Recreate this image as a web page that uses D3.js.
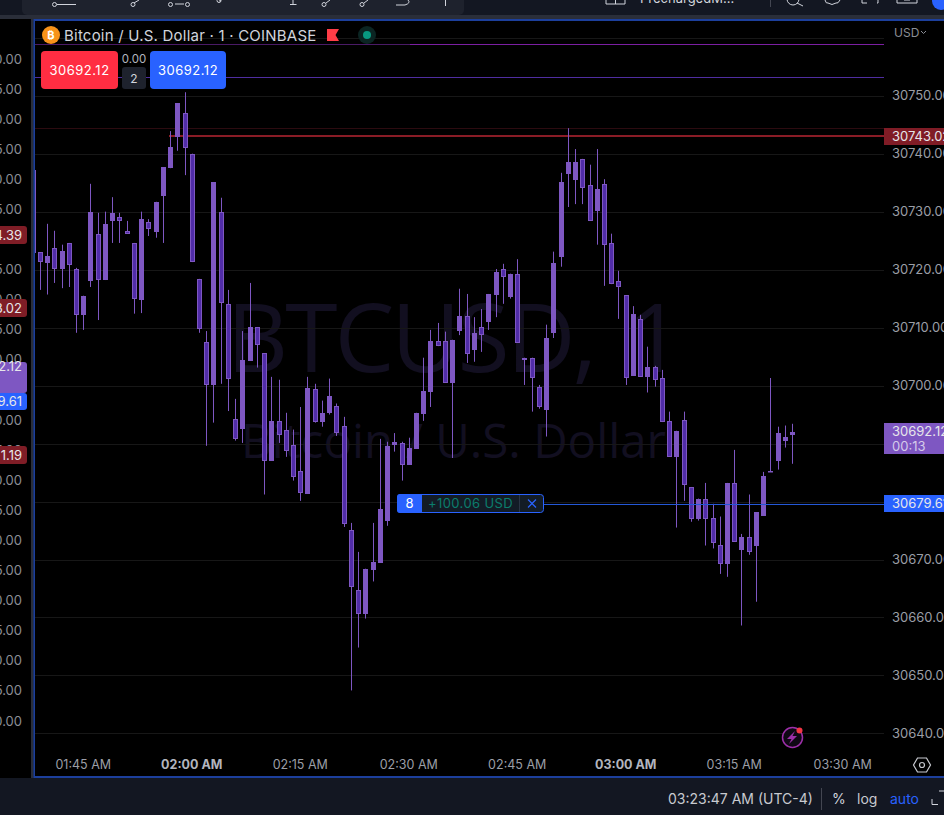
<!DOCTYPE html>
<html>
  <head>
    <title>Bitcoin / U.S. Dollar 1 COINBASE</title>
    <style>
      html, body { margin: 0; padding: 0; background: #131722; overflow: hidden; }
      svg { display: block; }
      text { font-family: Inter, "Noto Sans", sans-serif; }
    </style>
  </head>

  <body>
    <script src="https://d3js.org/d3.v7.min.js"></script>
    <script>

// one minute candles, first one is 01:38 and sits mostly behind the pane edge
var opens = [
  30723.0, 30723.1, 30721.3, 30723.8, 30720.2, 30724.7, 30720.2, 30712.3, 30718.2, 30726.3,
  30718.3, 30728.5, 30729.2, 30726.8, 30724.7, 30714.9, 30728.3, 30726.6, 30732.8, 30737.6,
  30743.0, 30747.1, 30740.1, 30718.5, 30707.6, 30700.1, 30730.1, 30714.2, 30694.4, 30692.6,
  30704.4, 30710.2, 30705.7, 30687.1, 30694.0, 30692.5, 30689.9, 30685.4, 30681.4, 30699.5,
  30693.8, 30695.4, 30696.6, 30693.2, 30675.2, 30664.9, 30660.7, 30668.3, 30669.5, 30676.8,
  30689.9, 30690.2, 30686.4, 30689.2, 30695.2, 30699.0, 30707.8, 30707.8, 30700.6, 30709.5,
  30712.1, 30706.3, 30710.2, 30711.1, 30715.7, 30720.2, 30715.4, 30719.4, 30704.9, 30704.9,
  30699.9, 30695.9, 30709.2, 30722.3, 30736.6, 30735.6, 30739.2, 30734.7, 30730.2, 30734.9,
  30724.7, 30718.2, 30715.7, 30701.8, 30711.6, 30701.6, 30703.3, 30701.4, 30694.0, 30687.8,
  30694.2, 30682.6, 30677.1, 30680.6, 30677.3, 30672.6, 30669.4, 30683.3, 30671.8, 30674.0,
  30672.3, 30677.6, 30685.4, 30687.1, 30690.6, 30691.6
];
var highs = [
  30737.3, 30723.1, 30728.0, 30726.8, 30724.4, 30724.7, 30720.4, 30715.6, 30734.9, 30729.9,
  30730.1, 30732.6, 30729.9, 30728.5, 30724.7, 30730.1, 30728.8, 30731.8, 30737.8, 30744.0,
  30748.8, 30750.7, 30740.1, 30718.5, 30709.5, 30735.2, 30732.5, 30716.6, 30697.8, 30709.5,
  30717.8, 30710.2, 30705.7, 30701.6, 30701.1, 30695.4, 30692.5, 30696.4, 30701.6, 30700.4,
  30697.5, 30701.3, 30697.0, 30694.7, 30676.4, 30671.4, 30668.5, 30676.4, 30690.9, 30690.4,
  30691.9, 30690.4, 30691.1, 30695.4, 30704.9, 30709.7, 30710.9, 30709.4, 30708.0, 30716.8,
  30715.9, 30711.9, 30713.3, 30715.9, 30720.2, 30721.1, 30719.4, 30721.9, 30704.9, 30704.9,
  30700.2, 30710.6, 30723.2, 30736.8, 30744.5, 30740.9, 30739.2, 30738.2, 30740.9, 30735.7,
  30726.3, 30719.9, 30715.7, 30713.8, 30712.3, 30706.8, 30703.5, 30702.8, 30695.6, 30692.3,
  30695.6, 30682.6, 30680.6, 30683.3, 30679.7, 30677.5, 30683.3, 30689.0, 30674.5, 30681.3,
  30678.2, 30685.2, 30701.4, 30693.0, 30693.2, 30693.5
];
var lows = [
  30723.0, 30716.6, 30715.8, 30717.8, 30716.9, 30717.1, 30709.2, 30709.7, 30717.1, 30711.4,
  30718.3, 30724.7, 30724.7, 30726.3, 30712.5, 30712.6, 30725.9, 30725.6, 30724.7, 30737.6,
  30740.6, 30736.4, 30721.4, 30709.2, 30689.7, 30693.7, 30700.4, 30695.7, 30690.6, 30690.2,
  30704.4, 30703.2, 30681.3, 30687.1, 30690.2, 30687.8, 30683.7, 30680.2, 30681.4, 30693.7,
  30693.0, 30695.1, 30691.4, 30675.7, 30647.5, 30654.9, 30659.9, 30666.3, 30669.5, 30675.9,
  30688.7, 30683.7, 30686.4, 30689.2, 30694.0, 30696.4, 30706.9, 30700.6, 30687.6, 30708.8,
  30704.0, 30704.2, 30705.9, 30709.7, 30711.9, 30714.2, 30715.1, 30707.5, 30700.2, 30695.6,
  30696.1, 30691.3, 30708.3, 30720.6, 30730.9, 30731.4, 30731.4, 30728.5, 30724.4, 30717.3,
  30717.6, 30711.6, 30700.2, 30701.8, 30701.6, 30698.9, 30699.9, 30693.8, 30687.8, 30675.6,
  30680.2, 30676.6, 30676.8, 30672.5, 30672.0, 30667.6, 30667.1, 30673.2, 30658.7, 30670.9,
  30662.8, 30677.6, 30685.2, 30685.6, 30689.4, 30686.6
];
var closes = [
  30737.3, 30721.3, 30722.5, 30720.2, 30723.3, 30720.9, 30712.3, 30715.6, 30730.1, 30718.3,
  30728.0, 30729.9, 30728.5, 30726.3, 30715.1, 30728.8, 30727.1, 30731.8, 30737.8, 30741.3,
  30748.8, 30741.1, 30721.4, 30709.9, 30700.1, 30735.2, 30714.4, 30701.3, 30690.9, 30704.5,
  30710.2, 30707.1, 30687.1, 30694.0, 30691.6, 30688.8, 30684.4, 30681.6, 30699.7, 30693.8,
  30695.4, 30698.3, 30691.9, 30676.3, 30665.4, 30660.7, 30668.5, 30669.7, 30678.8, 30689.7,
  30690.4, 30686.4, 30689.4, 30695.4, 30699.2, 30707.8, 30706.9, 30700.6, 30708.0, 30712.1,
  30705.6, 30709.2, 30708.8, 30715.9, 30719.7, 30718.8, 30719.4, 30707.5, 30704.5, 30701.4,
  30696.4, 30708.3, 30721.3, 30735.2, 30738.7, 30738.7, 30734.2, 30728.5, 30734.0, 30724.4,
  30717.6, 30717.1, 30701.4, 30712.5, 30701.6, 30703.3, 30701.1, 30693.8, 30687.8, 30692.3,
  30683.0, 30677.1, 30680.6, 30677.1, 30673.0, 30669.4, 30683.3, 30673.2, 30674.0, 30671.4,
  30678.2, 30684.5, 30685.2, 30691.9, 30691.3, 30692.12
];

var priceTicks = [30750, 30740, 30730, 30720, 30710, 30700, 30690, 30680, 30670, 30660, 30650, 30640];
var gridPrices = [30760].concat(priceTicks);
var leftTicks = ["0.00", "5.00", "0.00", "5.00", "0.00", "5.00", "0.00", "5.00", "0.00", "5.00", "0.00", "5.00", "0.00", "5.00", "0.00", "5.00", "0.00", "5.00", "0.00", "5.00", "0.00", "5.00", "0.00"];
var leftMarks = [
  {text: "4.39", y: 235, h: 18, fill: "#7f1d26"},
  {text: "3.02", y: 308, h: 18, fill: "#7f1d26"},
  {text: "2.12", y: 377.5, h: 31, fill: "#7e57c2", top: true},
  {text: "9.61", y: 401.5, h: 17, fill: "#2962ff"},
  {text: "1.19", y: 455, h: 18, fill: "#7f1d26"}
];
var timeTicks = ["01:45", "02:00", "02:15", "02:30", "02:45", "03:00", "03:15", "03:30"];
var stopPrice = 30743.02, lastPrice = 30692.12, orderPrice = 30679.61;
var purplePrice1 = 30759.0, purplePrice2 = 30753.3, faintRedPrice = 30744.5;

var width = 944, height = 815;
var paneLeft = 35, paneRight = 884, paneTop = 21, paneBottom = 776;

function toDate(s) { return new Date("2023-07-14T" + s + ":00Z"); }

var x = d3.scaleUtc()
    .domain([toDate("01:45"), toDate("03:30")])
    .range([83.76, 843.2]);

var y = d3.scaleLinear()
    .domain([30640, 30750])
    .range([733.9, 96.3]);

var leftY = d3.scaleLinear()
    .domain([0, leftTicks.length - 1])
    .range([59, 721]);

var candles = d3.range(opens.length).map(function (i) {
  return {
    t: new Date(toDate("01:38").getTime() + i * 60000),
    o: opens[i], h: highs[i], l: lows[i], c: closes[i]
  };
});

function crisp(v) { return Math.floor(v) + 0.5; }

var svg = d3.select("body").append("svg")
    .attr("width", width)
    .attr("height", height);

// frame
svg.append("rect").attr("width", width).attr("height", height).attr("fill", "#131722");
svg.append("rect").attr("x", 0).attr("y", 19).attr("width", 31).attr("height", 759).attr("fill", "#000");
svg.append("rect").attr("x", 0).attr("y", 15).attr("width", width).attr("height", 4).attr("fill", "#2a2e39");
svg.append("rect").attr("x", 31).attr("y", 19).attr("width", 2.4).attr("height", 759).attr("fill", "#2a2e39");
svg.append("rect").attr("x", 33.4).attr("y", 19).attr("width", width).attr("height", 759).attr("fill", "#1c3f9c");
svg.append("rect").attr("x", paneLeft).attr("y", paneTop).attr("width", width - paneLeft).attr("height", paneBottom - paneTop).attr("fill", "#000");
svg.append("rect").attr("x", 0).attr("y", 778).attr("width", width).attr("height", 37).attr("fill", "#131722");

svg.append("defs").append("clipPath").attr("id", "pane")
  .append("rect")
    .attr("x", paneLeft).attr("y", paneTop)
    .attr("width", paneRight - paneLeft).attr("height", 725);

// top toolbar
svg.append("path")
    .attr("fill", "#1e222d")
    .attr("d", "M22,0H464V10a5,5 0 0 1 -5,5H27a5,5 0 0 1 -5,-5Z");

var toolbar = svg.append("g").attr("fill", "none").attr("stroke", "#d1d4dc").attr("stroke-width", 1);
toolbar.append("path").attr("d", "M57,4.5H76");
toolbar.append("path").attr("d", "M134,3L139,0M175,4H184M221,0.5L219,1M293,0V4M290,4.5H296.5M326,3L330,0M364,3L368,0M396,5H405Q411,3 408,0M445.5,0V6");
[[54.5, 4.5], [133, 4.5], [170.5, 4.5], [187.5, 4.5], [219, 0.5], [324, 4.5], [362, 4.5]].forEach(function (c) {
  toolbar.append("circle").attr("cx", c[0]).attr("cy", c[1]).attr("r", 2);
});

// top right of the header
var header = svg.append("g").attr("fill", "none").attr("stroke", "#d1d4dc").attr("stroke-width", 1);
header.append("path").attr("d", "M606,0V4H625V0M615.5,0V4");
svg.append("text").attr("x", 640).attr("y", 3).attr("font-size", 13).attr("fill", "#d1d4dc").text("PrechargedM...");
svg.append("rect").attr("x", 770).attr("y", 0).attr("width", 1).attr("height", 7).attr("fill", "#434651");
header.append("circle").attr("cx", 793).attr("cy", -1).attr("r", 6);
header.append("path").attr("d", "M797,3L803,6");
header.append("path").attr("d", "M825,0Q826,4 828,3Q832,6 836,3Q838,4 840,0");
header.append("path").attr("d", "M862,0V3H867M877,3H878V0");
header.append("path").attr("d", "M897,0V3H917V0M904,0H910");
svg.append("circle").attr("cx", 941).attr("cy", 1).attr("r", 9).attr("fill", "#2962ff");

var chart = svg.append("g").attr("clip-path", "url(#pane)");

// watermark behind everything
chart.append("text")
    .attr("x", 453).attr("y", 372)
    .attr("text-anchor", "middle")
    .attr("font-size", 95)
    .attr("letter-spacing", -3)
    .attr("word-spacing", 12)
    .attr("fill", "#120f20")
    .style("font-family", "'Open Sans'")
    .text("BTCUSD, 1");
chart.append("text")
    .attr("x", 453.5).attr("y", 458)
    .attr("text-anchor", "middle")
    .attr("font-size", 47.5)
    .attr("fill", "#120f20")
    .style("font-family", "'Open Sans'")
    .text("Bitcoin / U.S. Dollar");

// grid
chart.append("g").selectAll("line")
  .data(gridPrices)
  .enter().append("line")
    .attr("x1", paneLeft).attr("x2", paneRight)
    .attr("y1", function (d) { return crisp(y(d)); })
    .attr("y2", function (d) { return crisp(y(d)); })
    .attr("stroke", "#171717");

// level lines
function level(price, x1, color) {
  chart.append("line")
      .attr("x1", x1).attr("x2", paneRight)
      .attr("y1", crisp(y(price))).attr("y2", crisp(y(price)))
      .attr("stroke", color);
}
level(purplePrice1, paneLeft, "#4a1a66");
level(purplePrice1, 410, "#7b1fa2");
level(purplePrice2, paneLeft, "#4f2da0");
level(faintRedPrice, paneLeft, "#2c0b10");

// the stop line is thicker than the others
chart.append("line")
    .attr("x1", 169).attr("x2", paneRight)
    .attr("y1", Math.floor(y(stopPrice))).attr("y2", Math.floor(y(stopPrice)))
    .attr("stroke", "#8a1c26")
    .attr("stroke-width", 2);

// candles
var candle = chart.append("g").selectAll("g")
  .data(candles)
  .enter().append("g");

candle.append("line")
    .attr("x1", function (d) { return crisp(x(d.t)); })
    .attr("x2", function (d) { return crisp(x(d.t)); })
    .attr("y1", function (d) { return y(d.h); })
    .attr("y2", function (d) { return y(d.l); })
    .attr("stroke", "#7e57c2");

candle.append("rect")
    .attr("x", function (d) { return Math.floor(x(d.t)) - 2 + 0.5; })
    .attr("y", function (d) { return Math.round(y(Math.max(d.o, d.c))) + 0.5; })
    .attr("width", 4)
    .attr("height", function (d) { return Math.max(Math.round(Math.abs(y(d.o) - y(d.c))) - 1, 0.5); })
    .attr("fill", function (d) { return d.c >= d.o ? "#7e57c2" : "#512da8"; })
    .attr("stroke", "#7e57c2");

// order line
chart.append("line")
    .attr("x1", 544).attr("x2", paneRight)
    .attr("y1", crisp(y(orderPrice))).attr("y2", crisp(y(orderPrice)))
    .attr("stroke", "#2458d8");

var order = svg.append("g");
order.append("rect").attr("x", 397.5).attr("y", 494.5).attr("width", 146).attr("height", 18).attr("rx", 3).attr("fill", "#131c26").attr("stroke", "#2962ff");
order.append("path").attr("fill", "#2962ff").attr("d", "M422,494H400a3,3 0 0 0 -3,3V510a3,3 0 0 0 3,3H422Z");
order.append("line").attr("x1", 519.5).attr("x2", 519.5).attr("y1", 495).attr("y2", 512).attr("stroke", "#2a3444");
order.append("text").attr("x", 409.5).attr("y", 508).attr("text-anchor", "middle").attr("font-size", 13).attr("fill", "#fff").text("8");
order.append("text").attr("x", 428).attr("y", 508).attr("font-size", 13).attr("letter-spacing", 0.4).attr("fill", "#0b7d6c").text("+100.06 USD");
order.append("path").attr("stroke", "#2962ff").attr("stroke-width", 1.2).attr("d", "M528,499.5L536,507.5M536,499.5L528,507.5");

// legend row
svg.append("circle").attr("cx", 51).attr("cy", 35).attr("r", 9).attr("fill", "#f7931a");
svg.append("text").attr("x", 51).attr("y", 39).attr("text-anchor", "middle").attr("font-size", 11).attr("font-weight", 700).attr("fill", "#fff").text("\u20BF");
svg.append("text").attr("x", 64).attr("y", 40.5).attr("font-size", 15).attr("letter-spacing", 0.22).attr("fill", "#d1d4dc").text("Bitcoin / U.S. Dollar \u00B7 1 \u00B7 COINBASE");
svg.append("path").attr("fill", "#ff3d47").attr("d", "M327,29H339L335.5,35L339,41H327Z");
svg.append("circle").attr("cx", 367).attr("cy", 35).attr("r", 9).attr("fill", "#0b2523");
svg.append("circle").attr("cx", 367).attr("cy", 35).attr("r", 4).attr("fill", "#089981");

// buy / sell buttons
svg.append("rect").attr("x", 41).attr("y", 51).attr("width", 77).attr("height", 38).attr("rx", 4).attr("fill", "#ff2d42");
svg.append("rect").attr("x", 150).attr("y", 51).attr("width", 76).attr("height", 38).attr("rx", 4).attr("fill", "#2962ff");
svg.append("rect").attr("x", 122).attr("y", 67).attr("width", 24).attr("height", 22).attr("rx", 3).attr("fill", "#1e222d");
svg.append("text").attr("x", 79.5).attr("y", 75).attr("text-anchor", "middle").attr("font-size", 13).attr("letter-spacing", 0.5).attr("fill", "#fff").text(lastPrice.toFixed(2));
svg.append("text").attr("x", 188).attr("y", 75).attr("text-anchor", "middle").attr("font-size", 13).attr("letter-spacing", 0.5).attr("fill", "#fff").text(lastPrice.toFixed(2));
svg.append("text").attr("x", 134).attr("y", 62.5).attr("text-anchor", "middle").attr("font-size", 11.5).attr("fill", "#b2b5be").text("0.00");
svg.append("text").attr("x", 134).attr("y", 83).attr("text-anchor", "middle").attr("font-size", 12).attr("fill", "#d1d4dc").text("2");

// price axis
var priceAxis = svg.append("g")
    .attr("transform", "translate(" + paneRight + ",-1)")
    .call(d3.axisRight(y).tickValues(priceTicks).tickFormat(d3.format(".2f")).tickSize(0).tickPadding(8));
priceAxis.select(".domain").remove();
priceAxis.selectAll("text")
    .attr("font-size", 13)
    .style("font-family", "Inter")
    .attr("fill", "#9b9ea6");

svg.append("text").attr("x", 894).attr("y", 37).attr("font-size", 12).attr("fill", "#8b8e96").text("USD");
svg.append("path").attr("fill", "none").attr("stroke", "#8b8e96").attr("d", "M921,31L923.5,33.5L926,31");

function priceLabel(price, top, h, fill) {
  svg.append("rect").attr("x", paneRight).attr("y", top).attr("width", 60).attr("height", h).attr("fill", fill);
  svg.append("text").attr("x", 892).attr("y", top + 13).attr("font-size", 13).attr("fill", "#e6e6ea").text(price.toFixed(2));
}
priceLabel(stopPrice, 128, 17, "#801c26");
priceLabel(lastPrice, 423, 31, "#7e57c2");
svg.append("text").attr("x", 892).attr("y", 451).attr("font-size", 13).attr("fill", "#d5cbea").text("00:13");
priceLabel(orderPrice, 495, 17, "#2962ff");

// time axis
var timeAxis = svg.append("g")
    .attr("transform", "translate(-1,751)")
    .call(d3.axisBottom(x)
      .tickValues(timeTicks.map(toDate))
      .tickFormat(d3.utcFormat("%I:%M %p"))
      .tickSize(0).tickPadding(9));
timeAxis.select(".domain").remove();
timeAxis.selectAll("text")
    .attr("font-size", 12.5)
    .style("font-family", "Inter")
    .attr("fill", "#9b9ea6")
    .each(function (d) {
      if (d.getUTCMinutes() === 0) d3.select(this).attr("font-weight", 700).attr("fill", "#b2b5be");
    });

// hexagon settings icon
svg.append("path").attr("fill", "none").attr("stroke", "#c8cad0").attr("stroke-width", 1.2).attr("d", "M917.5,758H926.5L930.5,765L926.5,772H917.5L913.5,765Z");
svg.append("circle").attr("cx", 922).attr("cy", 765).attr("r", 2.5).attr("fill", "none").attr("stroke", "#c8cad0").attr("stroke-width", 1.2);

// lightning icon
svg.append("circle").attr("cx", 792.5).attr("cy", 737.5).attr("r", 10).attr("fill", "#0f0814").attr("stroke", "#9c2fa8").attr("stroke-width", 1.5);
svg.append("path").attr("fill", "#9c2fa8").attr("d", "M795,731L787,739H791.5L789,744L797,736H792.5Z");
svg.append("circle").attr("cx", 799.5).attr("cy", 730.5).attr("r", 3).attr("fill", "#f23645");

// left pane, cut off by the window
var leftAxis = svg.append("g").selectAll("text")
  .data(leftTicks)
  .enter().append("text")
    .attr("x", 22)
    .attr("y", function (d, i) { return leftY(i) + 4.5; })
    .attr("text-anchor", "end")
    .attr("font-size", 13)
    .attr("fill", "#8b8e96")
    .text(function (d) { return d; });

svg.append("g").selectAll("path")
  .data(leftMarks)
  .enter().append("path")
    .attr("fill", function (d) { return d.fill; })
    .attr("d", function (d) {
      var t = d.y - d.h / 2, b = d.y + d.h / 2;
      return "M0," + t + "H24a3,3 0 0 1 3,3V" + (b - 3) + "a3,3 0 0 1 -3,3H0Z";
    });
svg.append("g").selectAll("text")
  .data(leftMarks)
  .enter().append("text")
    .attr("x", 22)
    .attr("y", function (d) { return d.top ? d.y - 2.5 - 4 : d.y + 4.5; })
    .attr("text-anchor", "end")
    .attr("font-size", 13)
    .attr("fill", "#e6e6ea")
    .text(function (d) { return d.text; });

// bottom status bar
var statusBar = svg.append("g").attr("font-size", 14);
statusBar.append("text").attr("x", 668).attr("y", 804).attr("fill", "#c8cad0").text("03:23:47 AM (UTC-4)");
statusBar.append("rect").attr("x", 821).attr("y", 788).attr("width", 1).attr("height", 22).attr("fill", "#434651");
statusBar.append("text").attr("x", 832).attr("y", 804).attr("fill", "#d1d4dc").text("%");
statusBar.append("text").attr("x", 857).attr("y", 804).attr("fill", "#c8cad0").text("log");
statusBar.append("text").attr("x", 890).attr("y", 804).attr("fill", "#2962ff").text("auto");
svg.append("path").attr("fill", "none").attr("stroke", "#d1d4dc").attr("d", "M932,799V804.5H938M939,791H944");

    </script>
  </body>
</html>
